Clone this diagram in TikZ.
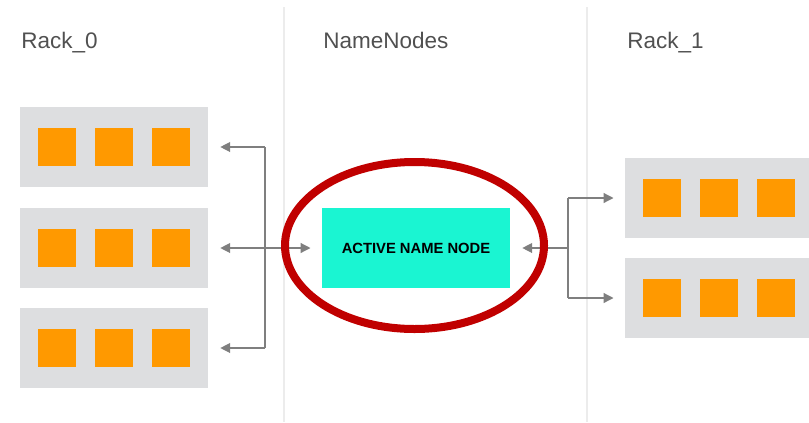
\documentclass[tikz,border=0pt]{standalone}
\usepackage{fontspec}
\setmainfont{Liberation Sans}
\usetikzlibrary{arrows.meta}

\definecolor{rackgray}{HTML}{DDDEE0}
\definecolor{diskorange}{HTML}{FF9900}
\definecolor{activecyan}{HTML}{1AF5D2}
\definecolor{ringred}{HTML}{C00000}
\definecolor{linkgray}{HTML}{7F7F7F}
\definecolor{titlegray}{HTML}{505050}

\tikzset{
  title/.style={anchor=base west, text=titlegray, inner sep=0,
    font=\fontsize{16}{18}\selectfont},
  rack/.style={fill=rackgray, minimum width=4.7cm, minimum height=2cm, inner sep=0},
  disk/.style={fill=diskorange, minimum size=0.95cm, inner sep=0},
  active/.style={fill=activecyan, minimum width=4.7cm, minimum height=2cm,
    font=\fontsize{10.5}{12}\selectfont\bfseries},
  wire/.style={draw=linkgray, line width=0.9pt},
  link/.style={wire, -{Triangle[length=7pt,width=7pt]}},
}

\begin{document}
\begin{tikzpicture}[x=0.025cm, y=-0.025cm]
\useasboundingbox (0, 0) rectangle (809, 422);

% column dividers
\draw [gray!15, line width=0.8pt] (284, 7) -- (284, 422);
\draw [gray!15, line width=0.8pt] (587, 7) -- (587, 422);

\node [title] at (21, 48)  {Rack\_0};
\node [title] at (323, 48) {NameNodes};
\node [title] at (627, 48) {Rack\_1};

%%%%%%%%%%%%%%%%%%%%%%%%%%%%%%%%%%%%%%%%

\node [rack] (r0a) at (114, 147) {};
\node [rack] (r0b) at (114, 248) {};
\node [rack] (r0c) at (114, 348) {};
\node [rack] (r1a) at (719, 198) {};
\node [rack] (r1b) at (719, 298) {};

\foreach \r in {r0a, r0b, r0c, r1a, r1b}
  \foreach \dx in {-57, 0, 57}
    \node [disk] at ([xshift=\dx*0.025cm] \r.center) {};

\node [active] (nn) at (416, 248) {ACTIVE NAME NODE};

%%%%%%%%%%%%%%%%%%%%%%%%%%%%%%%%%%%%%%%%

\coordinate (bus0) at (265, 248);
\coordinate (bus1) at (568, 248);

\draw [wire] (bus0 |- r0a.east) -- (bus0 |- r0c.east);
\draw [link, shorten >=0.3cm] (bus0 |- r0a.east) -- (r0a.east);
\draw [link, shorten >=0.3cm] (bus0 |- r0c.east) -- (r0c.east);
\draw [wire, {Triangle[length=7pt,width=7pt]}-{Triangle[length=7pt,width=7pt]},
       shorten <=0.3cm, shorten >=0.28cm] (r0b.east) -- (nn.west);

\draw [wire] (bus1 |- r1a.west) -- (bus1 |- r1b.west);
\draw [link, shorten >=0.3cm] (bus1) -- (nn.east);
\draw [link, shorten >=0.28cm] (bus1 |- r1a.west) -- (r1a.west);
\draw [link, shorten >=0.28cm] (bus1 |- r1b.west) -- (r1b.west);

\draw [ringred, line width=0.2cm] (414.5, 245.5) ellipse [x radius=129.5, y radius=83.5];
\end{tikzpicture}
\end{document}
